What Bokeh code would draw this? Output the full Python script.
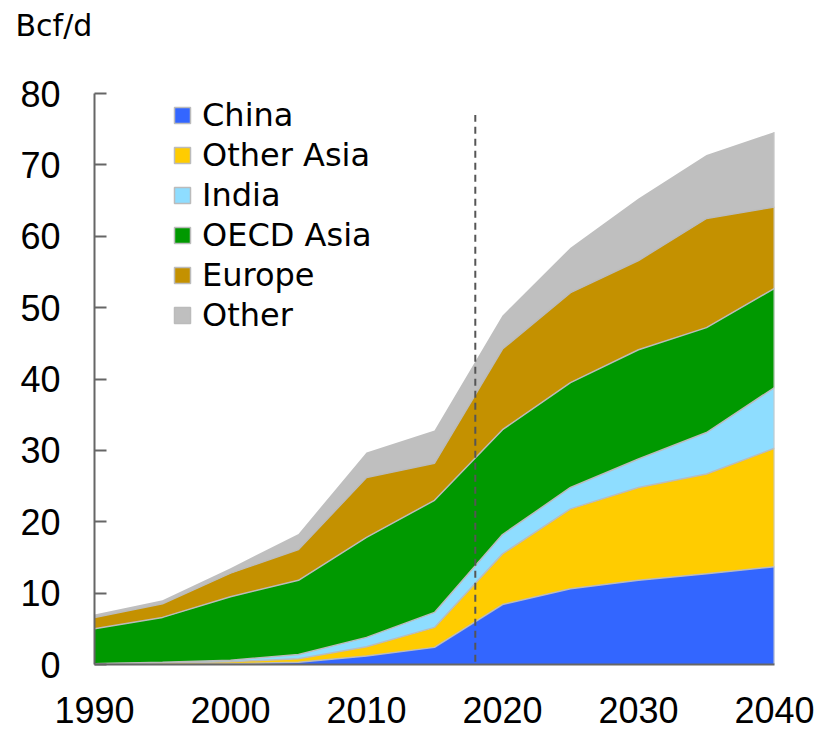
from bokeh.plotting import figure
from bokeh.models import (Legend, LegendItem, Arrow, FixedTicker,
                          ColumnDataSource, Title)
from bokeh.transform import stack
from bokeh.embed import file_html
from bokeh.resources import INLINE

# ---- data (Bcf/d) ----
years = [1990, 1995, 2000, 2005, 2010, 2015, 2020, 2025, 2030, 2035, 2040]
china      = [0.0, 0.0, 0.1, 0.3, 1.2, 2.4, 8.4, 10.6, 11.8, 12.7, 13.7]
other_asia = [0.1, 0.2, 0.3, 0.5, 1.3, 2.8, 7.1, 11.2, 13.0, 14.0, 16.6]
india      = [0.0, 0.1, 0.2, 0.6, 1.3, 2.1, 2.7, 3.0, 4.0, 5.8, 8.5]
oecd_asia  = [4.9, 6.3, 8.9, 10.4, 14.0, 15.7, 14.7, 14.7, 15.3, 14.7, 13.9]
europe     = [1.6, 1.9, 3.3, 4.3, 8.4, 5.2, 11.3, 12.6, 12.5, 15.3, 11.4]
other      = [0.4, 0.5, 0.7, 2.2, 3.5, 4.6, 4.7, 6.3, 8.7, 8.9, 10.5]

series_names = ["China", "Other Asia", "India", "OECD Asia", "Europe", "Other"]
series_values = [china, other_asia, india, oecd_asia, europe, other]
colors = ["#3366FF", "#FFCC00", "#8EDDFF", "#009900", "#C49100", "#BFBFBF"]

x_ticks = [1990, 2000, 2010, 2020, 2030, 2040]
y_ticks = [0, 10, 20, 30, 40, 50, 60, 70, 80]
history_end = 2018
unit_label = "Bcf/d"

keys = ["s%d" % i for i in range(len(series_names))]
data = {"year": years}
for k, v in zip(keys, series_values):
    data[k] = v
src = ColumnDataSource(data)

TICK_FONT = "Liberation Sans"
TEXT_FONT = "DejaVu Sans"

p = figure(width=816, height=731, x_range=(1990, 2040), y_range=(0, 80),
           output_backend="svg", toolbar_location=None,
           min_border_left=94, min_border_right=42, min_border_top=93,
           min_border_bottom=67)
p.grid.visible = False
p.outline_line_color = None
p.background_fill_color = "white"

# unit label as left-aligned title above the axis
p.title.text = unit_label
p.title.align = "left"
p.title.offset = -79
p.title.standoff = 0
p.title.text_font = TEXT_FONT
p.title.text_font_size = "30px"
p.title.text_font_style = "normal"
p.title.text_color = "black"
# empty spacer between the frame and the unit label
p.add_layout(Title(text=" ", text_font_size="10px", standoff=38), "above")

p.varea_stack(stackers=keys, x="year", color=colors, source=src)
for i in range(5):
    p.line(x="year", y=stack(*keys[:i + 1]), source=src,
           line_color="#BBBBBB", line_width=1.5)
# right-hand edge of the stack
p.segment(x0="year", y0=0, x1="year", y1=stack(*keys),
          source=ColumnDataSource({k: [v[-1]] for k, v in data.items()}),
          line_color="#C8C8C8", line_width=2)

# axes
p.xaxis.ticker = FixedTicker(ticks=x_ticks)
p.xaxis.major_tick_line_color = None
p.xaxis.minor_tick_line_color = None
p.xaxis.axis_line_color = "#666666"
p.xaxis.axis_line_width = 2
p.xaxis.major_label_text_font = TICK_FONT
p.xaxis.major_label_text_font_size = "36px"
p.xaxis.major_label_text_color = "black"
p.xaxis.major_label_standoff = 26

p.yaxis.ticker = FixedTicker(ticks=y_ticks)
p.yaxis.major_tick_in = 12
p.yaxis.major_tick_out = 0
p.yaxis.major_tick_line_color = "#666666"
p.yaxis.major_tick_line_width = 2
p.yaxis.minor_tick_line_color = None
p.yaxis.axis_line_color = "#666666"
p.yaxis.axis_line_width = 2
p.yaxis.major_label_text_font = TICK_FONT
p.yaxis.major_label_text_font_size = "36px"
p.yaxis.major_label_text_color = "black"
p.yaxis.major_label_standoff = 34

# history / projection divider
p.add_layout(Arrow(x_start=history_end, y_start=-1.3, x_end=history_end,
                   y_end=77, end=None, line_color="#555555", line_width=2,
                   line_dash="7 5"))

# legend (square swatches with grey outline)
nan = float("nan")
items = []
for name, c in zip(series_names, colors):
    r = p.quad(left=[nan], right=[nan], top=[nan], bottom=[nan], fill_color=c,
               line_color="#BBBBBB", line_width=1.5)
    items.append(LegendItem(label=name, renderers=[r]))
legend = Legend(items=items, location=(78, 330), padding=0, margin=0,
                glyph_width=20, glyph_height=20, label_standoff=10,
                label_height=32, spacing=2,
                label_text_font=TEXT_FONT, label_text_font_size="32px",
                label_text_color="black",
                border_line_color=None, background_fill_alpha=0)
p.add_layout(legend)

open("out.html", "w").write(file_html(p, INLINE))
